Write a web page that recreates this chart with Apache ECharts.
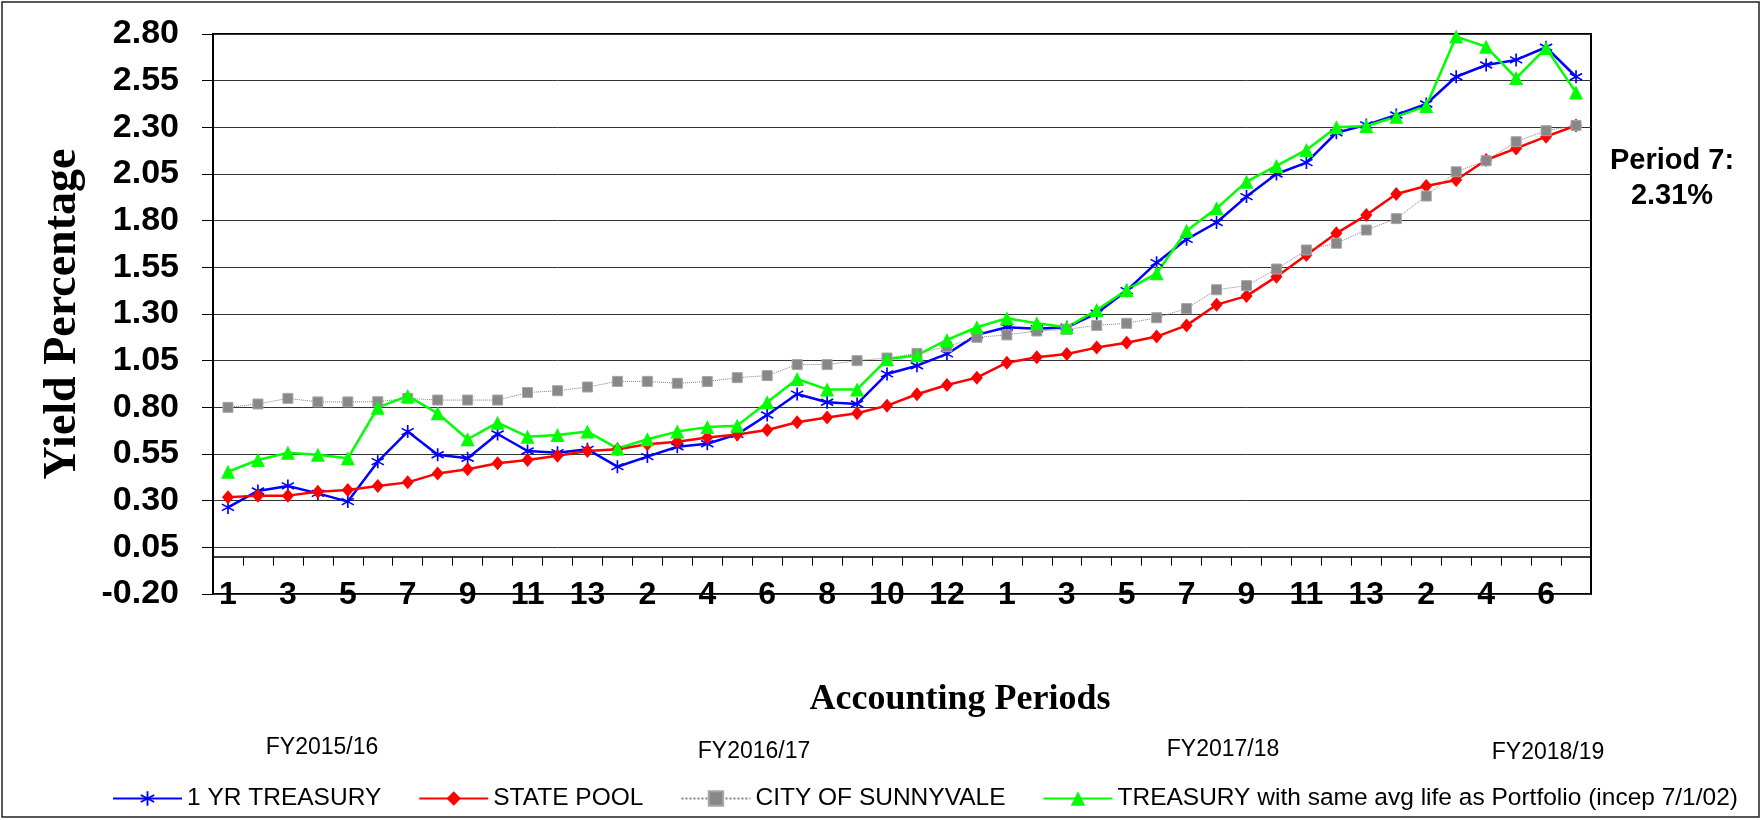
<!DOCTYPE html>
<html>
<head>
<meta charset="utf-8">
<title>Yield Percentage</title>
<script src="https://cdn.jsdelivr.net/npm/echarts@6.0.0/dist/echarts.min.js"></script>
<style>
  html, body { margin: 0; padding: 0; background: #fff; }
  #chart { width: 1763px; height: 820px; }
</style>
</head>
<body>
<div id="chart"></div>
<script>
// accounting periods: FY2015/16 (1-13), FY2016/17 (1-13), FY2017/18 (1-13), FY2018/19 (1-7)
var periods = ['1','2','3','4','5','6','7','8','9','10','11','12','13',
               '1','2','3','4','5','6','7','8','9','10','11','12','13',
               '1','2','3','4','5','6','7','8','9','10','11','12','13',
               '1','2','3','4','5','6','7'];
var fiscalYears = ['FY2015/16', 'FY2016/17', 'FY2017/18', 'FY2018/19'];
var yTicks = [-0.20, 0.05, 0.30, 0.55, 0.80, 1.05, 1.30, 1.55, 1.80, 2.05, 2.30, 2.55, 2.80];

var treasury1Yr = [0.264, 0.352, 0.379, 0.339, 0.295, 0.509, 0.670, 0.546, 0.527, 0.657, 0.566, 0.557, 0.575,
                   0.482, 0.536, 0.589, 0.605, 0.655, 0.759, 0.871, 0.827, 0.818, 0.979, 1.023, 1.086, 1.188,
                   1.229, 1.221, 1.229, 1.304, 1.425, 1.575, 1.700, 1.790, 1.929, 2.050, 2.111, 2.271, 2.313,
                   2.366, 2.425, 2.571, 2.634, 2.661, 2.729, 2.571];
var statePool = [0.318, 0.327, 0.327, 0.348, 0.357, 0.379, 0.398, 0.446, 0.468, 0.500, 0.518, 0.541, 0.566,
                 0.575, 0.602, 0.616, 0.638, 0.655, 0.679, 0.720, 0.746, 0.768, 0.809, 0.870, 0.920, 0.959,
                 1.039, 1.068, 1.086, 1.120, 1.146, 1.179, 1.239, 1.350, 1.396, 1.500, 1.616, 1.732, 1.830,
                 1.943, 1.986, 2.018, 2.125, 2.187, 2.250, 2.310];
var cityOfSunnyvale = [0.800, 0.818, 0.848, 0.829, 0.829, 0.830, 0.848, 0.839, 0.839, 0.839, 0.879, 0.889, 0.909,
                       0.939, 0.939, 0.929, 0.938, 0.959, 0.970, 1.029, 1.029, 1.050, 1.064, 1.089, 1.125, 1.175,
                       1.188, 1.209, 1.218, 1.239, 1.250, 1.280, 1.329, 1.430, 1.452, 1.541, 1.643, 1.679, 1.750,
                       1.811, 1.932, 2.062, 2.121, 2.223, 2.282, 2.310];
var treasuryAvgLife = [0.455, 0.518, 0.557, 0.546, 0.527, 0.798, 0.861, 0.768, 0.629, 0.718, 0.643, 0.652, 0.670,
                       0.580, 0.629, 0.670, 0.694, 0.702, 0.827, 0.952, 0.896, 0.896, 1.057, 1.079, 1.161, 1.229,
                       1.277, 1.250, 1.229, 1.321, 1.429, 1.518, 1.746, 1.866, 2.009, 2.093, 2.179, 2.300, 2.307,
                       2.357, 2.414, 2.786, 2.732, 2.564, 2.725, 2.486];

var sans = 'Liberation Sans, Arial, sans-serif';
var serif = 'Liberation Serif, Times New Roman, serif';

// six-armed asterisk marker for the 1 YR TREASURY line
var asterisk = 'path://M-1.2,-10L1.2,-10L1.2,10L-1.2,10Z' +
               'M-9.26,-3.96L-8.06,-6.04L9.26,3.96L8.06,6.04Z' +
               'M8.06,-6.04L9.26,-3.96L-8.06,6.04L-9.26,3.96Z';

var chartDom = document.getElementById('chart');
var myChart = echarts.init(chartDom);

var option = {
    animation: false,
    backgroundColor: '#fff',
    grid: {
        left: 213, top: 34, width: 1378, height: 560,
        show: true, borderColor: '#000', borderWidth: 2
    },
    legend: {
        left: 112, top: 786, width: 1645, padding: 0,
        itemWidth: 69, itemHeight: 18, itemGap: 37,
        textStyle: { fontFamily: sans, fontSize: 24.5, color: '#000' },
        data: ['1 YR TREASURY', 'STATE POOL', 'CITY OF SUNNYVALE',
               'TREASURY with same avg life as Portfolio (incep 7/1/02)']
    },
    xAxis: {
        type: 'category',
        data: periods,
        boundaryGap: true,
        axisLine: { onZero: true, lineStyle: { color: '#000', width: 1.5 } },
        axisTick: { show: true, interval: 0, length: 9, lineStyle: { color: '#000', width: 1 } },
        axisLabel: {
            interval: 1, margin: -15,
            fontFamily: sans, fontSize: 32, fontWeight: 'bold', color: '#000'
        },
        splitLine: { show: false }
    },
    yAxis: {
        type: 'value',
        min: -0.20, max: 2.80, interval: 0.25,
        name: 'Yield Percentage',
        nameLocation: 'middle', nameRotate: 90, nameGap: 127,
        nameTextStyle: { fontFamily: serif, fontSize: 46, fontWeight: 'bold', color: '#000' },
        axisLine: { show: true, lineStyle: { color: '#000', width: 2 } },
        axisTick: { show: true, length: 11, customValues: yTicks, lineStyle: { color: '#000' } },
        axisLabel: {
            customValues: yTicks, margin: 34,
            fontFamily: sans, fontSize: 34, fontWeight: 'bold', color: '#000',
            formatter: function (v) { return v.toFixed(2); }
        },
        splitLine: { show: true, lineStyle: { color: '#333', width: 1 } }
    },
    series: [
        {
            name: '1 YR TREASURY', type: 'line', data: treasury1Yr,
            symbol: asterisk, symbolSize: 13,
            lineStyle: { color: '#0000ff', width: 2.5 },
            itemStyle: { color: '#0000ff' }
        },
        {
            name: 'STATE POOL', type: 'line', data: statePool,
            symbol: 'diamond', symbolSize: [12, 14],
            lineStyle: { color: '#ff0000', width: 2.5 },
            itemStyle: { color: '#ff0000' }
        },
        {
            name: 'CITY OF SUNNYVALE', type: 'line', data: cityOfSunnyvale,
            symbol: 'rect', symbolSize: 10,
            lineStyle: { color: '#808080', width: 1, type: 'dotted' },
            itemStyle: { color: '#888', borderColor: '#a6a6a6', borderWidth: 1 }
        },
        {
            name: 'TREASURY with same avg life as Portfolio (incep 7/1/02)', type: 'line', data: treasuryAvgLife,
            symbol: 'triangle', symbolSize: 14,
            lineStyle: { color: '#00ff00', width: 2.5 },
            itemStyle: { color: '#00ff00' }
        }
    ],
    graphic: [
        {
            type: 'rect', silent: true,
            shape: { x: 2, y: 2, width: 1757, height: 815 },
            style: { fill: 'none', stroke: '#222', lineWidth: 1.5 }
        },
        {
            type: 'text', x: 960, y: 700,
            style: { text: 'Accounting Periods', font: 'bold 36px ' + serif, fill: '#000',
                     textAlign: 'center', textVerticalAlign: 'middle' }
        },
        {
            type: 'text', x: 322, y: 748,
            style: { text: fiscalYears[0], font: '23px ' + sans, fill: '#000', textAlign: 'center', textVerticalAlign: 'middle' }
        },
        {
            type: 'text', x: 754, y: 752,
            style: { text: fiscalYears[1], font: '23px ' + sans, fill: '#000', textAlign: 'center', textVerticalAlign: 'middle' }
        },
        {
            type: 'text', x: 1223, y: 750,
            style: { text: fiscalYears[2], font: '23px ' + sans, fill: '#000', textAlign: 'center', textVerticalAlign: 'middle' }
        },
        {
            type: 'text', x: 1548, y: 753,
            style: { text: fiscalYears[3], font: '23px ' + sans, fill: '#000', textAlign: 'center', textVerticalAlign: 'middle' }
        },
        {
            type: 'text', x: 1672, y: 178,
            style: {
                text: 'Period ' + periods[periods.length - 1] + ':\n' +
                      cityOfSunnyvale[cityOfSunnyvale.length - 1].toFixed(2) + '%',
                font: 'bold 29px ' + sans, lineHeight: 35, fill: '#000',
                textAlign: 'center', textVerticalAlign: 'middle'
            }
        }
    ]
};

myChart.setOption(option);
window.addEventListener('resize', () => myChart.resize());
</script>
</body>
</html>
